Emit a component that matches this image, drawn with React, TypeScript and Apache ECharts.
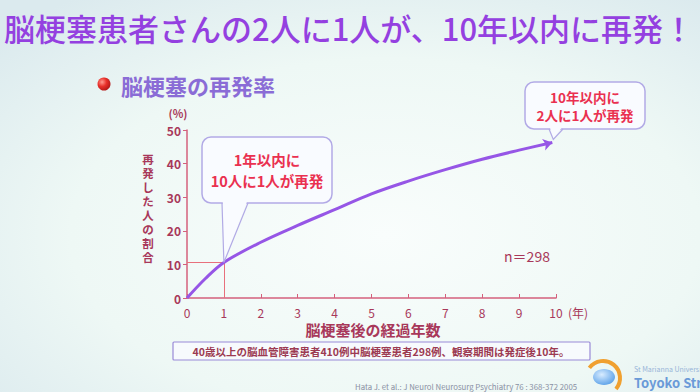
import React, { useEffect, useRef } from "react";
import * as echarts from "echarts";

const years = [0, 0.5, 1, 2, 3, 4, 5, 6, 7, 8, 9, 9.9];
const recurrence = [0, 5.8, 10.6, 16.6, 21.6, 26.3, 31, 34.8, 38.2, 41.3, 44, 46.3];
const oneYearPoint = [1, 10.6];
const title = "脳梗塞患者さんの2人に1人が、10年以内に再発！";
const subtitle = "脳梗塞の再発率";
const yName = "再発した人の割合";
const xName = "脳梗塞後の経過年数";
const callout1 = ["1年以内に", "10人に1人が再発"];
const callout2 = ["10年以内に", "2人に1人が再発"];
const nLabel = "n＝298";
const footnote = "40歳以上の脳血管障害患者410例中脳梗塞患者298例、観察期間は発症後10年。";
const citation = "Hata J. et al.: J Neurol Neurosurg Psychiatry 76 : 368-372 2005";

export default function App() {
  const ref = useRef<HTMLDivElement>(null);
  useEffect(() => {
    const chart = echarts.init(ref.current!, null, { renderer: "svg" });
    const font = '"Noto Sans CJK JP", "Noto Sans", sans-serif';
    const maroon = "#a8385a";
    const axisColor = "#d4607c";
    const lineColor = "#9656e6";
    const red = "#ea3050";
    const data = years.map((y, i) => [y, recurrence[i]]);
    const last = data.length - 1;
    chart.setOption({
      animation: false,
      backgroundColor: {
        type: "radial",
        x: 0.55,
        y: 0.6,
        r: 0.75,
        colorStops: [
          { offset: 0, color: "#f9fdfc" },
          { offset: 0.6, color: "#eef8f5" },
          { offset: 1, color: "#dbeaee" },
        ],
      },
      grid: { left: 187, right: 144, top: 130, bottom: 94 },
      xAxis: {
        type: "value",
        min: 0,
        max: 10,
        interval: 1,
        axisLine: { lineStyle: { color: axisColor, width: 1.5 } },
        axisTick: { show: true, inside: true, length: 4, lineStyle: { color: axisColor } },
        axisLabel: { color: maroon, fontSize: 12, fontFamily: font, margin: 8 },
        splitLine: { show: false },
      },
      yAxis: {
        type: "value",
        min: 0,
        max: 50,
        interval: 10,
        axisLine: { show: true, lineStyle: { color: axisColor, width: 1.5 } },
        axisTick: { show: true, length: 4, lineStyle: { color: axisColor } },
        axisLabel: { color: maroon, fontSize: 12, fontWeight: "bold", fontFamily: font, margin: 6 },
        splitLine: { show: false },
      },
      series: [
        {
          type: "line",
          data,
          smooth: 0.35,
          symbol: (_v: any, p: any) => (p.dataIndex === last ? "arrow" : "none"),
          symbolSize: 9,
          symbolRotate: -75,
          itemStyle: { color: lineColor },
          lineStyle: { color: lineColor, width: 3 },
          markLine: {
            silent: true,
            symbol: "none",
            label: { show: false },
            lineStyle: { color: "#e8707c", width: 1, type: "solid" },
            data: [
              [{ coord: [0, oneYearPoint[1]] }, { coord: [oneYearPoint[0], oneYearPoint[1]] }],
              [{ coord: [oneYearPoint[0], 0] }, { coord: [oneYearPoint[0], oneYearPoint[1]] }],
            ],
          },
          z: 5,
        },
      ],
    });

    const tip1 = chart.convertToPixel({ gridIndex: 0 }, oneYearPoint) as number[];
    const tip2 = chart.convertToPixel({ gridIndex: 0 }, data[last]) as number[];

    const txt = (text: string, x: number, y: number, size: number, fill: string, extra: any = {}) => ({
      type: "text",
      x,
      y,
      z: 20,
      style: {
        text,
        fill,
        fontSize: size,
        fontFamily: font,
        fontWeight: "bold",
        textAlign: "center",
        align: "center",
        textVerticalAlign: "middle",
        verticalAlign: "middle",
        ...extra,
      },
    });

    const callout = (
      x: number, y: number, w: number, h: number,
      bl: number, br: number, tip: number[], lines: string[], size: number, lineGap: number
    ) => {
      const fill = "#f9fbff";
      const stroke = "#b2aae6";
      const bottom = y + h;
      const els: any[] = [
        { type: "rect", z: 10, shape: { x, y, width: w, height: h, r: 9 }, style: { fill, stroke, lineWidth: 1.5 } },
        { type: "polygon", z: 11, shape: { points: [[bl + 0.8, bottom - 2], [tip[0], tip[1] - 1], [br - 0.8, bottom - 2]] }, style: { fill } },
        { type: "polyline", z: 12, shape: { points: [[bl, bottom], [tip[0], tip[1]], [br, bottom]] }, style: { stroke, lineWidth: 1.2, fill: "none" } },
      ];
      const cx = x + w / 2;
      const cy = y + h / 2;
      lines.forEach((l, i) => {
        els.push(txt(l, cx, cy + (i - (lines.length - 1) / 2) * lineGap, size, red));
      });
      return els;
    };

    const yNameEls = yName.split("").map((ch, i) => txt(ch, 148, 159 + i * 14, 11.5, maroon, { lineHeight: 12 }));

    chart.setOption({
      graphic: [
        txt(title, 4, 27, 31, "#9440e0", { fontWeight: 500, textAlign: "left", align: "left" }),
        { type: "circle", z: 20, shape: { cx: 104, cy: 84, r: 6.5 }, style: {
          fill: { type: "radial", x: 0.35, y: 0.35, r: 0.7, colorStops: [{ offset: 0, color: "#ff9a90" }, { offset: 0.5, color: "#e8302a" }, { offset: 1, color: "#b01818" }] } } },
        txt(subtitle, 121, 85, 22, "#8a6cd6", { textAlign: "left", align: "left" }),
        txt("(%)", 178, 113, 11, maroon),
        ...yNameEls,
        txt("(年)", 578, 312, 12, maroon, { fontWeight: "normal" }),
        txt(xName, 373, 329, 15, maroon),
        txt(nLabel, 527, 256, 14, maroon, { fontWeight: "normal" }),
        ...callout(202, 137, 130, 66, 222, 248, tip1, callout1, 14.5, 21),
        ...callout(525, 82, 120, 47, 549, 563, [tip2[0] + 1, tip2[1] - 3], callout2, 13.5, 18),
        { type: "rect", z: 10, shape: { x: 173, y: 342, width: 417, height: 18, r: 1 }, style: { fill: "#f7fafd", stroke: "#9a8ad8", lineWidth: 1.2 } },
        txt(footnote, 381, 351.5, 10.5, "#9c3a52"),
        txt(citation, 355, 386, 7.8, "#8a90a4", { textAlign: "left", align: "left", fontWeight: "normal" }),
        { type: "arc", z: 15, shape: { cx: 603, cy: 378, r: 17, startAngle: -2.5, endAngle: 0.7, clockwise: true }, style: { stroke: "#f0a030", lineWidth: 4, fill: "none" } },
        { type: "ellipse", z: 16, shape: { cx: 604, cy: 377, rx: 11, ry: 8 }, style: {
          fill: { type: "radial", x: 0.4, y: 0.35, r: 0.7, colorStops: [{ offset: 0, color: "#d8ecff" }, { offset: 1, color: "#5aa0e8" }] } } },
        txt("St Marianna University School of Medicine", 634, 369, 7, "#98b4d8", { textAlign: "left", align: "left", fontWeight: "normal" }),
        txt("Toyoko Stroke Center", 634, 382, 13, "#6a9ad8", { textAlign: "left", align: "left" }),
      ],
    });
    return () => chart.dispose();
  }, []);
  return <div ref={ref} style={{ position: "absolute", left: 0, top: 0, width: 700, height: 392 }} />;
}
